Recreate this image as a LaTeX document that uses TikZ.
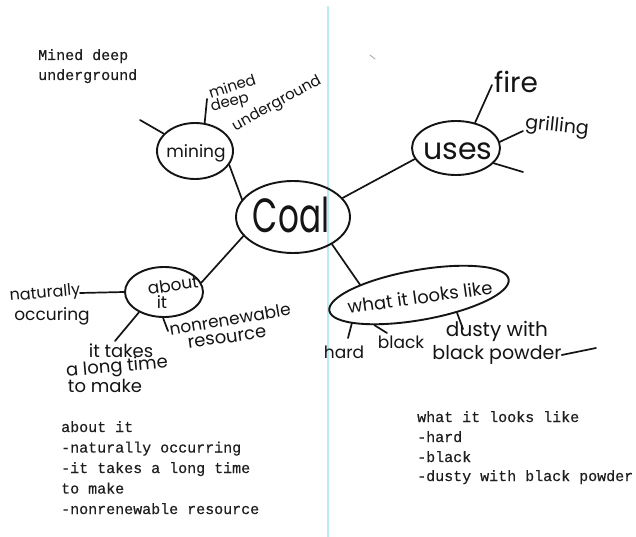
\documentclass[tikz,border=0pt]{standalone}
\usepackage{fontspec}
\usepackage{graphicx}
\setmainfont{Poppins}
\newfontfamily\typefont[FakeBold=0.5]{Liberation Mono}
\usetikzlibrary{shapes.geometric}
\definecolor{rule}{RGB}{185,236,242}
\definecolor{ink}{RGB}{20,20,20}
\definecolor{typed}{RGB}{30,30,30}
\begin{document}
\begin{tikzpicture}[x=1pt,y=-1pt,
  bubble/.style={draw=ink, ellipse, line width=1.9pt, inner sep=0pt, text=ink},
  hand/.style={font=\fontsize{#1}{#1}\selectfont, inner sep=0pt, text=ink},
  stroke/.style={draw=ink, line width=1.7pt, line cap=round},
  typedline/.style={font=\typefont\fontsize{15}{20}\selectfont, anchor=base west, inner sep=0pt, text=typed}
]
\useasboundingbox[fill=white] (0,0) rectangle (636,537);

% centre fold of the page
\draw[rule, line width=1.4pt] (328,6) -- (328,537);
% small pencil speck
\draw[gray!70, line width=0.8pt, line cap=round] (370,55) -- (375,59);

% bubbles
\node[bubble, minimum width=114pt, minimum height=72pt] (coal) at (293,217) {};
\node[hand=48] (coaltxt) at (291,215) {\scalebox{0.68}[1]{Coal}};
\node[bubble, minimum width=76pt, minimum height=56pt] (mining) at (195,151) {};
\node[hand=17] (miningtxt) at (196,153) {mining};
\node[bubble, minimum width=88pt, minimum height=54pt] (uses) at (456,148) {};
\node[hand=30] (usestxt) at (458,151) {uses};
\node[bubble, minimum width=78pt, minimum height=50pt] (about) at (164,292) {};
\node[hand=17, rotate=8] (abouttxt) at (173,285) {about};
\node[hand=17] (ittxt) at (162,302) {it};
\node[bubble, minimum width=182pt, minimum height=50pt, rotate=10] (looks) at (419,295) {};
\node[hand=18, rotate=8] (lookstxt) at (420,297) {what it looks like};

% branches between bubbles
\draw[stroke] (coal.161) -- (mining.-22);
\draw[stroke] (coal.21) -- (uses.195);
\draw[stroke] (coal.201) -- (about.14);
\draw[stroke] (coal.-35) -- (looks.160);

% mining branches
\coordinate (m1) at (140,120);
\coordinate (m2) at (207,99);
\draw[stroke] (mining.151) -- (m1);
\draw[stroke] (mining.71) -- (m2);
\node[hand=15, rotate=18] (mined) at (232,86) {mined};
\node[hand=15, rotate=15] (deep) at (230,103) {deep};
\node[hand=15, rotate=29] (underground) at (277,104) {underground};

% uses branches
\coordinate (u1) at (492,85);
\coordinate (u2) at (523,131);
\coordinate (u3) at (523,172);
\draw[stroke] (uses.53) -- (u1);
\draw[stroke] (uses.8) -- (u2);
\draw[stroke] (uses.-22) -- (u3);
\node[hand=28] (fire) at (516,82) {fire};
\node[hand=19, rotate=-6] (grilling) at (557,127) {grilling};

% about it branches
\coordinate (a1) at (80,293);
\coordinate (a2) at (115,341);
\coordinate (a3) at (168,331);
\draw[stroke] (about.180) -- (a1);
\draw[stroke] (about.219) -- (a2);
\draw[stroke] (about.268) -- (a3);
\node[hand=16, rotate=5] (naturally) at (45,294) {naturally};
\node[hand=17] (occuring) at (52,316) {occuring};
\node[hand=18] (ittakes) at (121,351) {it takes};
\node[hand=18, rotate=5] (longtime) at (117,368) {a long time};
\node[hand=18] (tomake) at (105,386) {to make};
\node[hand=17, rotate=10] (nonrenewable) at (230,319) {nonrenewable};
\node[hand=18, rotate=8] (resource) at (227,338) {resource};

% what it looks like branches
\coordinate (l1) at (348,338);
\coordinate (l2) at (387,333);
\coordinate (l3) at (463,329);
\coordinate (l4) at (596,348);
\draw[stroke] (looks.193) -- (l1);
\draw[stroke] (looks.204) -- (l2);
\draw[stroke] (looks.-35) -- (l3);
\node[hand=17] (hard) at (344,352) {hard};
\node[hand=17] (black) at (401,342) {black};
\node[hand=20] (dusty) at (497,331) {dusty with};
\node[hand=19] (powder) at (497,355) {black powder};
\draw[stroke] (powder.east) -- (l4);

% typed notes
\node[typedline] (n1) at (38,60) {Mined deep};
\node[typedline] (n2) at (38,80) {underground};

\node[typedline] (b1) at (61,432) {about it};
\node[typedline] (b2) at (61,452.5) {-naturally occurring};
\node[typedline] (b3) at (61,473) {-it takes a long time};
\node[typedline] (b4) at (61,493.5) {to make};
\node[typedline] (b5) at (61,514) {-nonrenewable resource};

\node[typedline] (r1) at (417,422) {what it looks like};
\node[typedline] (r2) at (417,442) {-hard};
\node[typedline] (r3) at (417,462) {-black};
\node[typedline] (r4) at (417,481) {-dusty with black powder};
\end{tikzpicture}
\end{document}
